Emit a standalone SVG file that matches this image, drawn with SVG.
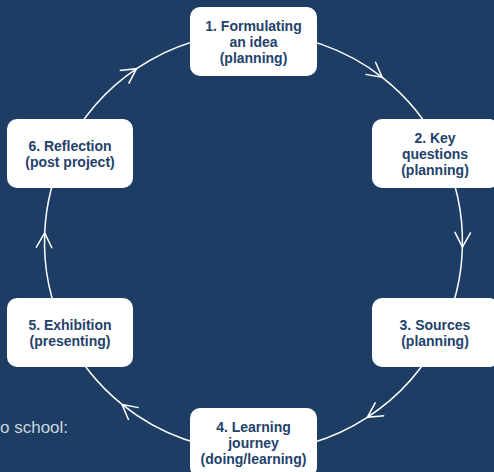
<svg xmlns="http://www.w3.org/2000/svg" width="494" height="472" viewBox="0 0 494 472">
  <style>
    .bg { fill: #1e3d64; }
    .conn { fill: none; stroke: #ffffff; stroke-width: 1.5; marker-mid: url(#chev); }
    .box { fill: #ffffff; }
    .lbl { font-family: "Liberation Sans", Arial, sans-serif; font-weight: bold; font-size: 14px; fill: #23426b; text-anchor: middle; }
    .note { font-family: "Liberation Sans", Arial, sans-serif; font-size: 17px; fill: #cdd5df; }
  </style>
  <defs>
    <marker id="chev" markerUnits="userSpaceOnUse" viewBox="-18 -10 20 20" refX="0" refY="0" markerWidth="20" markerHeight="20" orient="auto" overflow="visible">
      <path d="M-15,-8 L0,0 L-15,8" fill="none" stroke="#ffffff" stroke-width="1.5"/>
    </marker>
  </defs>
  <rect class="bg" x="0" y="0" width="494" height="472"/>

  <text class="note" x="0" y="433">o school:</text>

  <g id="connectors">
    <path class="conn" d="M253.5,33 A209,209 0 0 1 382.2,77.3 A209,209 0 0 1 441.4,150.4"/>
    <path class="conn" d="M441.4,150.4 A209,209 0 0 1 462.4,247.1 A209,209 0 0 1 441.4,333.6"/>
    <path class="conn" d="M441.4,333.6 A209,209 0 0 1 367.3,417.3 A209,209 0 0 1 253.5,451"/>
    <path class="conn" d="M253.5,451 A209,209 0 0 1 122,404.4 A209,209 0 0 1 65.6,333.6"/>
    <path class="conn" d="M65.6,333.6 A209,209 0 0 1 44.7,232.9 A209,209 0 0 1 65.6,150.4"/>
    <path class="conn" d="M65.6,150.4 A209,209 0 0 1 136.6,68.7 A209,209 0 0 1 253.5,33"/>
  </g>

  <g id="node1">
    <rect class="box" x="190" y="7" width="127" height="69" rx="10"/>
    <text class="lbl" x="253.5" y="31">1. Formulating</text>
    <text class="lbl" x="253.5" y="47">an idea</text>
    <text class="lbl" x="253.5" y="63">(planning)</text>
  </g>
  <g id="node2">
    <rect class="box" x="372" y="119" width="127" height="69" rx="10"/>
    <text class="lbl" x="435" y="143">2. Key</text>
    <text class="lbl" x="435" y="159">questions</text>
    <text class="lbl" x="435" y="175">(planning)</text>
  </g>
  <g id="node3">
    <rect class="box" x="372" y="298" width="127" height="69" rx="10"/>
    <text class="lbl" x="435" y="329.5">3. Sources</text>
    <text class="lbl" x="435" y="345.5">(planning)</text>
  </g>
  <g id="node4">
    <rect class="box" x="190" y="408" width="127" height="69" rx="10"/>
    <text class="lbl" x="253.5" y="432">4. Learning</text>
    <text class="lbl" x="253.5" y="448">journey</text>
    <text class="lbl" x="253.5" y="464">(doing/learning)</text>
  </g>
  <g id="node5">
    <rect class="box" x="7" y="298" width="126" height="69" rx="10"/>
    <text class="lbl" x="70" y="329.5">5. Exhibition</text>
    <text class="lbl" x="70" y="345.5">(presenting)</text>
  </g>
  <g id="node6">
    <rect class="box" x="7" y="119" width="126" height="69" rx="10"/>
    <text class="lbl" x="70" y="150.5">6. Reflection</text>
    <text class="lbl" x="70" y="166.5">(post project)</text>
  </g>
</svg>
